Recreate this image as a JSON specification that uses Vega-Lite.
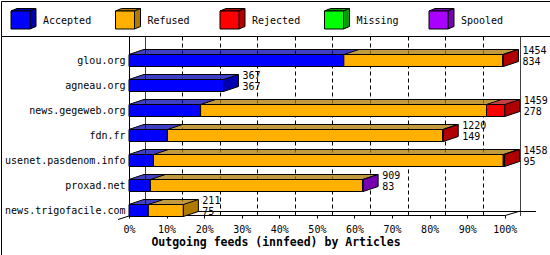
{
  "$schema": "https://vega.github.io/schema/vega-lite/v6.json",
  "background": "white",
  "padding": 0,
  "spacing": 0,
  "bounds": "flush",
  "config": {
    "view": {"stroke": "#000", "strokeWidth": 1},
    "axis": {"labelFont": "DejaVu Sans Mono", "labelFontSize": 10, "labelColor": "#000", "titleFont": "DejaVu Sans Mono", "titleColor": "#000", "domainColor": "#000", "tickColor": "#000"},
    "text": {"font": "DejaVu Sans Mono", "fontSize": 10, "color": "#000"}
  },
  "vconcat": [
    {
      "width": 549,
      "height": 35,
      "data": {"values": [{"status": "Accepted"}, {"status": "Refused"}, {"status": "Rejected"}, {"status": "Missing"}, {"status": "Spooled"}]},
      "encoding": {
        "x": {"field": "status", "type": "nominal", "scale": {"type": "point", "domain": ["Accepted", "Refused", "Rejected", "Missing", "Spooled"], "range": [10, 428], "padding": 0}, "axis": null}
      },
      "layer": [
        {
          "mark": {"type": "point", "shape": "M0,-7.5L6,-10H25L19,-7.5Z", "size": 4, "filled": true, "opacity": 1, "stroke": "#000", "strokeWidth": 1},
          "encoding": {"color": {"field": "status", "type": "nominal", "scale": {"domain": ["Accepted", "Refused", "Rejected", "Missing", "Spooled"], "range": ["#0000B0", "#B07A00", "#B00000", "#00A000", "#7500B0"]}, "legend": null}}
        },
        {
          "mark": {"type": "point", "shape": "M19,-7.5L25,-10V8L19,10.5Z", "size": 4, "filled": true, "opacity": 1, "stroke": "#000", "strokeWidth": 1},
          "encoding": {"color": {"field": "status", "type": "nominal", "scale": {"domain": ["Accepted", "Refused", "Rejected", "Missing", "Spooled"], "range": ["#0000B0", "#B07A00", "#B00000", "#00A000", "#7500B0"]}, "legend": null}}
        },
        {
          "mark": {"type": "point", "shape": "M0,-7.5H19V10.5H0Z", "size": 4, "filled": true, "opacity": 1, "stroke": "#000", "strokeWidth": 1},
          "encoding": {"color": {"field": "status", "type": "nominal", "scale": {"domain": ["Accepted", "Refused", "Rejected", "Missing", "Spooled"], "range": ["#0000FF", "#FFB000", "#FF0000", "#00FF00", "#AA00FF"]}, "legend": null}}
        },
        {
          "mark": {"type": "text", "align": "left", "baseline": "middle", "dx": 32, "dy": 2.5, "font": "DejaVu Sans Mono", "fontSize": 10, "color": "#000"},
          "encoding": {"text": {"field": "status", "type": "nominal"}}
        }
      ],
      "resolve": {"scale": {"color": "independent"}}
    },
    {
      "width": 549,
      "height": 219,
      "data": {"values": [
        {"host": "glou.org", "status": "Accepted", "count": 834},
        {"host": "glou.org", "status": "Refused", "count": 617},
        {"host": "glou.org", "status": "Rejected", "count": 3},
        {"host": "agneau.org", "status": "Accepted", "count": 367},
        {"host": "news.gegeweb.org", "status": "Accepted", "count": 278},
        {"host": "news.gegeweb.org", "status": "Refused", "count": 1110},
        {"host": "news.gegeweb.org", "status": "Rejected", "count": 71},
        {"host": "fdn.fr", "status": "Accepted", "count": 149},
        {"host": "fdn.fr", "status": "Refused", "count": 1069},
        {"host": "fdn.fr", "status": "Rejected", "count": 2},
        {"host": "usenet.pasdenom.info", "status": "Accepted", "count": 95},
        {"host": "usenet.pasdenom.info", "status": "Refused", "count": 1358},
        {"host": "usenet.pasdenom.info", "status": "Rejected", "count": 5},
        {"host": "proxad.net", "status": "Accepted", "count": 83},
        {"host": "proxad.net", "status": "Refused", "count": 824},
        {"host": "proxad.net", "status": "Spooled", "count": 2},
        {"host": "news.trigofacile.com", "status": "Accepted", "count": 75},
        {"host": "news.trigofacile.com", "status": "Refused", "count": 136}
      ]},
      "transform": [
        {"stack": "count", "groupby": ["host"], "sort": [{"field": "status", "order": "ascending"}], "as": ["x0", "x1"]},
        {"joinaggregate": [{"op": "sum", "field": "count", "as": "total"}], "groupby": ["host"]}
      ],
      "encoding": {
        "y": {
          "field": "host", "type": "nominal", "title": null,
          "scale": {"domain": ["glou.org", "agneau.org", "news.gegeweb.org", "fdn.fr", "usenet.pasdenom.info", "proxad.net", "news.trigofacile.com"], "range": [0, 179.5], "paddingInner": 0.6, "paddingOuter": 0.39, "align": 1},
          "axis": {"orient": "left", "offset": -128, "domain": true, "ticks": false, "grid": false, "labelPadding": 4, "labelFont": "DejaVu Sans Mono", "labelFontSize": 10, "labelColor": "#000", "title": null}
        }
      },
      "layer": [
        {
          "transform": [{"filter": "datum.host == 'news.trigofacile.com' && datum.status == 'Accepted'"}],
          "mark": {"type": "rule", "color": "#000", "strokeWidth": 1, "xOffset": 15.5, "x2Offset": 31.2, "yOffset": 1},
          "encoding": {
            "x": {"field": "x0", "type": "quantitative", "scale": {"domain": [0, 1459], "range": [128, 503.8], "nice": false, "zero": false},
              "axis": {"orient": "top", "grid": true, "gridColor": "#000", "gridWidth": 1,
                "gridDash": {"condition": {"test": "datum.value == 0 || datum.value == 1459", "value": [1, 0]}, "value": [4, 3]},
                "labels": false, "ticks": false, "domain": false, "title": null, "tickOffset": 15.5,
                "values": [0, 145.9, 291.8, 437.7, 583.6, 729.5, 875.4, 1021.3, 1167.2, 1313.1, 1459]}},
            "x2": {"datum": 1459}
          }
        },
        {
          "transform": [{"filter": "datum.host == 'news.trigofacile.com' && datum.status == 'Accepted'"}],
          "mark": {"type": "point", "shape": "M-11,9L15.5,0.5", "size": 4, "filled": false, "opacity": 1, "color": "#000", "strokeWidth": 1},
          "encoding": {"x": {"field": "x0", "type": "quantitative", "axis": null}}
        },
        {
          "transform": [{"filter": "datum.host == 'news.trigofacile.com' && datum.status == 'Accepted'"}],
          "mark": {"type": "point", "shape": "M0.5,5L15.7,0.5", "size": 4, "filled": false, "opacity": 1, "color": "#000", "strokeWidth": 1},
          "encoding": {"x": {"datum": 1459, "type": "quantitative", "axis": null}}
        },
        {
          "mark": {"type": "bar", "height": 1, "xOffset": 1.5, "x2Offset": 1.5, "yOffset": -6.5},
          "encoding": {"x": {"field": "x0", "type": "quantitative", "axis": null}, "x2": {"field": "x1"},
            "color": {"field": "status", "type": "nominal", "scale": {"domain": ["Accepted", "Refused", "Rejected", "Missing", "Spooled"], "range": ["#0000B0", "#B07A00", "#B00000", "#00A000", "#7500B0"]}, "legend": null}}
        },
        {
          "mark": {"type": "bar", "height": 1, "xOffset": 4.5, "x2Offset": 4.5, "yOffset": -7.5},
          "encoding": {"x": {"field": "x0", "type": "quantitative", "axis": null}, "x2": {"field": "x1"},
            "color": {"field": "status", "type": "nominal", "scale": {"domain": ["Accepted", "Refused", "Rejected", "Missing", "Spooled"], "range": ["#0000B0", "#B07A00", "#B00000", "#00A000", "#7500B0"]}, "legend": null}}
        },
        {
          "mark": {"type": "bar", "height": 1, "xOffset": 7.5, "x2Offset": 7.5, "yOffset": -8.5},
          "encoding": {"x": {"field": "x0", "type": "quantitative", "axis": null}, "x2": {"field": "x1"},
            "color": {"field": "status", "type": "nominal", "scale": {"domain": ["Accepted", "Refused", "Rejected", "Missing", "Spooled"], "range": ["#0000B0", "#B07A00", "#B00000", "#00A000", "#7500B0"]}, "legend": null}}
        },
        {
          "mark": {"type": "bar", "height": 1, "xOffset": 10.5, "x2Offset": 10.5, "yOffset": -9.5},
          "encoding": {"x": {"field": "x0", "type": "quantitative", "axis": null}, "x2": {"field": "x1"},
            "color": {"field": "status", "type": "nominal", "scale": {"domain": ["Accepted", "Refused", "Rejected", "Missing", "Spooled"], "range": ["#0000B0", "#B07A00", "#B00000", "#00A000", "#7500B0"]}, "legend": null}}
        },
        {
          "mark": {"type": "bar", "height": 1, "xOffset": 13.5, "x2Offset": 13.5, "yOffset": -10.5},
          "encoding": {"x": {"field": "x0", "type": "quantitative", "axis": null}, "x2": {"field": "x1"},
            "color": {"field": "status", "type": "nominal", "scale": {"domain": ["Accepted", "Refused", "Rejected", "Missing", "Spooled"], "range": ["#0000B0", "#B07A00", "#B00000", "#00A000", "#7500B0"]}, "legend": null}}
        },
        {
          "mark": {"type": "bar", "height": 12, "stroke": "#000", "strokeWidth": 1},
          "encoding": {
            "x": {"field": "x0", "type": "quantitative", "scale": {"domain": [0, 1459], "range": [128, 503.8], "nice": false, "zero": false},
              "axis": {"orient": "bottom", "offset": -40, "grid": false, "values": [0, 145.9, 291.8, 437.7, 583.6, 729.5, 875.4, 1021.3, 1167.2, 1313.1, 1459],
                "labelExpr": "round(datum.value / 14.59) + '%'", "labelFlush": false, "tickSize": 3, "labelPadding": 6,
                "title": "Outgoing feeds (innfeed) by Articles", "titleFontSize": 11.5, "titleFontWeight": "bold", "titleX": 274.5, "titleY": 27, "titleAlign": "center", "titleBaseline": "middle"}},
            "x2": {"field": "x1"},
            "color": {"field": "status", "type": "nominal", "scale": {"domain": ["Accepted", "Refused", "Rejected", "Missing", "Spooled"], "range": ["#0000FF", "#FFB000", "#FF0000", "#00FF00", "#AA00FF"]}, "legend": null}
          }
        },
        {
          "transform": [{"filter": "datum.status == 'Accepted'"}],
          "mark": {"type": "rule", "color": "#000", "strokeWidth": 1, "xOffset": 15, "x2Offset": 15, "yOffset": -11},
          "encoding": {"x": {"field": "x0", "type": "quantitative", "axis": null}, "x2": {"field": "total"}}
        },
        {
          "mark": {"type": "point", "shape": "M0,-6L15,-11", "size": 4, "filled": false, "opacity": 1, "color": "#000", "strokeWidth": 1},
          "encoding": {"x": {"field": "x0", "type": "quantitative", "axis": null}}
        },
        {
          "transform": [{"filter": "datum.x1 == datum.total"}],
          "mark": {"type": "point", "shape": "M0,-6L15,-11V1L0,6Z", "size": 4, "filled": true, "opacity": 1, "stroke": "#000", "strokeWidth": 1},
          "encoding": {"x": {"field": "x1", "type": "quantitative", "axis": null},
            "color": {"field": "status", "type": "nominal", "scale": {"domain": ["Accepted", "Refused", "Rejected", "Missing", "Spooled"], "range": ["#0000B0", "#B07A00", "#B00000", "#00A000", "#7500B0"]}, "legend": null}}
        },
        {
          "transform": [{"filter": "datum.status == 'Accepted'"}],
          "mark": {"type": "text", "align": "left", "baseline": "middle", "dx": 19, "dy": -9.5, "font": "DejaVu Sans Mono", "fontSize": 10, "color": "#000"},
          "encoding": {"x": {"field": "total", "type": "quantitative", "axis": null}, "text": {"field": "total", "type": "quantitative"}}
        },
        {
          "transform": [{"filter": "datum.status == 'Accepted'"}],
          "mark": {"type": "text", "align": "left", "baseline": "middle", "dx": 19, "dy": 1.5, "font": "DejaVu Sans Mono", "fontSize": 10, "color": "#000"},
          "encoding": {"x": {"field": "total", "type": "quantitative", "axis": null}, "text": {"field": "count", "type": "quantitative"}}
        }
      ],
      "resolve": {"scale": {"color": "independent"}, "axis": {"x": "independent"}}
    }
  ]
}
